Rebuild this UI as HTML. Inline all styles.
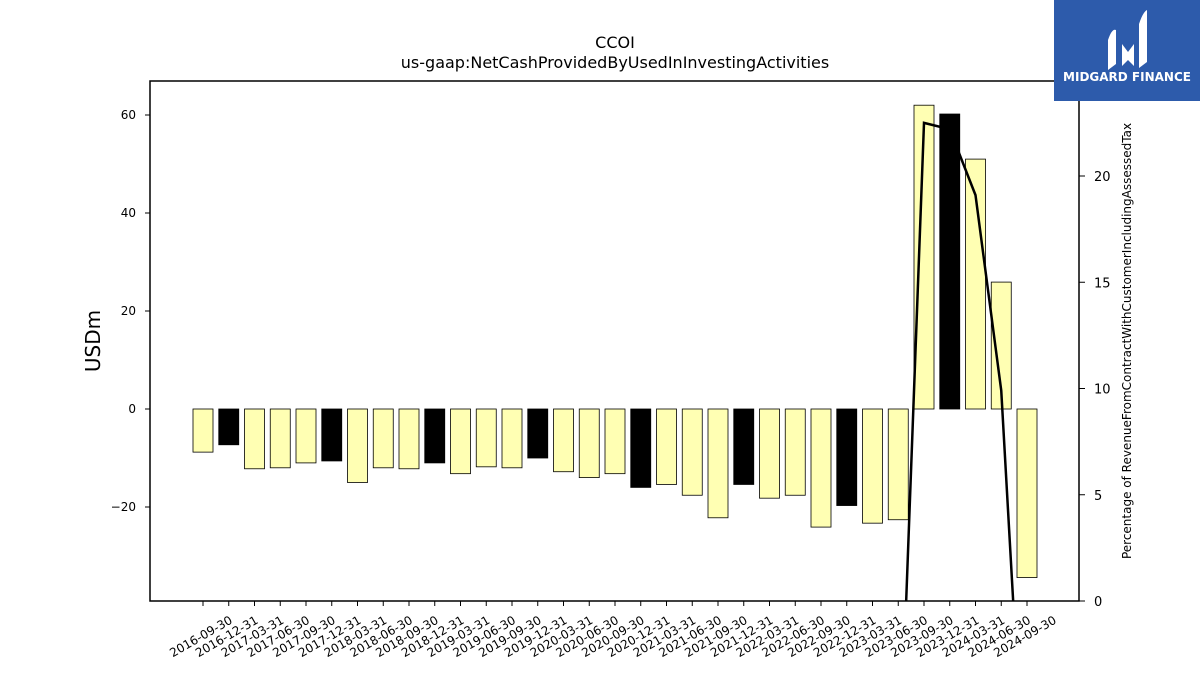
<!DOCTYPE html>
<html><head><meta charset="utf-8"><style>
html,body{margin:0;background:#fff;width:1200px;height:675px;overflow:hidden;}
svg{display:block;font-family:"DejaVu Sans","Liberation Sans",sans-serif;}
</style></head><body>
<svg id="c" width="1200" height="675" xmlns="http://www.w3.org/2000/svg">
<defs><clipPath id="pc"><rect x="150" y="81" width="929" height="520"/></clipPath></defs>
<text x="615" y="48" text-anchor="middle" font-size="16">CCOI</text>
<text x="615" y="68" text-anchor="middle" font-size="16">us-gaap:NetCashProvidedByUsedInInvestingActivities</text>
<g id="bars" clip-path="url(#pc)"></g>
<g id="line" clip-path="url(#pc)"></g>
<rect x="150" y="81" width="929" height="520" fill="none" stroke="#000" stroke-width="1.5"/>
<g id="axes"></g>
<text transform="translate(100,341) rotate(-90)" text-anchor="middle" font-size="20">USDm</text>
<text transform="translate(1131,341) rotate(-90)" text-anchor="middle" font-size="12">Percentage of RevenueFromContractWithCustomerIncludingAssessedTax</text>
<g>
<rect x="1054" y="0" width="146" height="101" fill="#2d5bab"/>
<path d="M1108 40 q4 -12 8 -10 v34 l-8 6z M1122 44 l6 8 l6 -8 v22 l-6 -6 l-6 6z M1139 24 q4 -12 8 -14 v52 l-8 6z" fill="#fff"/>
<text x="1127" y="81" text-anchor="middle" font-size="12" font-weight="bold" fill="#fff">MIDGARD FINANCE</text>
</g>
</svg>
<script>
const categories=["2016-09-30","2016-12-31","2017-03-31","2017-06-30","2017-09-30","2017-12-31","2018-03-31","2018-06-30","2018-09-30","2018-12-31","2019-03-31","2019-06-30","2019-09-30","2019-12-31","2020-03-31","2020-06-30","2020-09-30","2020-12-31","2021-03-31","2021-06-30","2021-09-30","2021-12-31","2022-03-31","2022-06-30","2022-09-30","2022-12-31","2023-03-31","2023-06-30","2023-09-30","2023-12-31","2024-03-31","2024-06-30","2024-09-30"];
const values=[-8.8,-7.3,-12.2,-12,-11,-10.6,-15,-12,-12.2,-11,-13.2,-11.8,-12,-10,-12.8,-14,-13.2,-16,-15.4,-17.6,-22.2,-15.4,-18.2,-17.6,-24.1,-19.7,-23.3,-22.6,62,60.2,51,25.9,-34.4];
const pctValues=[null,null,null,null,null,null,null,null,null,null,null,null,null,null,null,null,null,null,null,null,null,null,null,null,null,null,null,-10,22.5,22.2,19.1,9.9,-11.5];
const leftTicks=[-20,0,20,40,60];
const rightTicks=[0,5,10,15,20];
const NS="http://www.w3.org/2000/svg";
const y=v=>409-v*4.9;
const y2=v=>601-v*21.25;
const x=i=>203+i*25.75;
function mk(t,a,p){const e=document.createElementNS(NS,t);for(const k in a)e.setAttribute(k,a[k]);document.getElementById(p).appendChild(e);return e;}
values.forEach((v,i)=>{
 const black=categories[i].endsWith("12-31");
 const r=mk("rect",{x:x(i)-10,y:Math.min(y(v),y(0)),width:20,height:Math.abs(y(v)-y(0)),fill:black?"#000":"#ffffb3",stroke:"#000","stroke-width":0.8},"bars");
 
 
});
let d="";
pctValues.forEach((v,i)=>{if(v===null)return;d+=(d?"L":"M")+x(i)+" "+y2(v);});
const pl=mk("path",{d:d,fill:"none",stroke:"#000","stroke-width":2.5},"line");


categories.forEach((c,i)=>{
 const t=mk("line",{x1:x(i),x2:x(i),y1:601,y2:606,stroke:"#000","stroke-width":1},"axes");
 
 
 const l=mk("text",{x:0,y:0,"text-anchor":"middle","font-size":12,transform:`translate(${x(i)},${640}) rotate(-30)`},"axes");
 l.textContent=c;
 
 
});
leftTicks.forEach(v=>{
 const t=mk("line",{x1:145,x2:150,y1:y(v),y2:y(v),stroke:"#000"},"axes");
 
 
 const l=mk("text",{x:136,y:y(v)+4,"text-anchor":"end","font-size":12},"axes");
 l.textContent=v<0?"\u2212"+(-v):v;
 
 
});
rightTicks.forEach(v=>{
 const t=mk("line",{x1:1079,x2:1085,y1:y2(v),y2:y2(v),stroke:"#000"},"axes");
 
 
 const l=mk("text",{x:1094,y:y2(v)+5,"font-size":13},"axes");
 l.textContent=v;
 
 
});
</script>
</body></html>
